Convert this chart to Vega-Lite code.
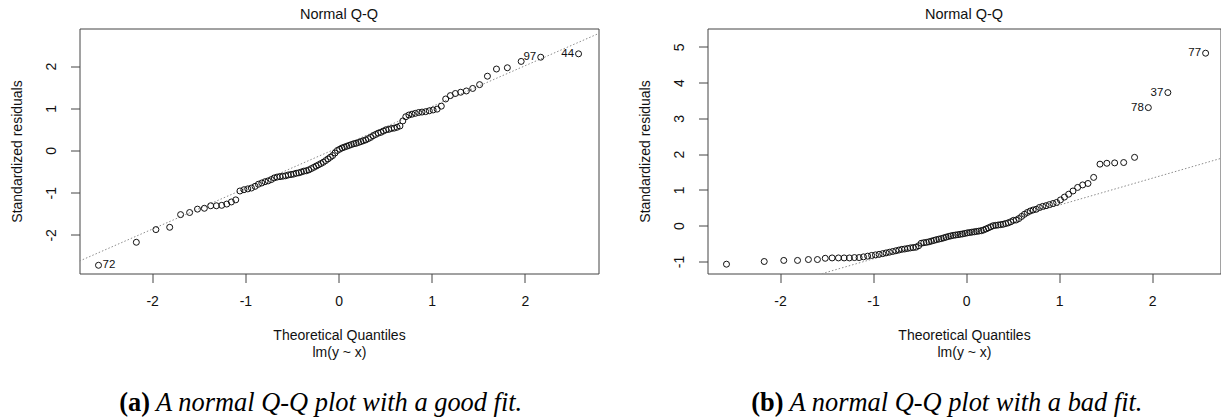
{
  "$schema": "https://vega.github.io/schema/vega-lite/v6.json",
  "padding": {"left": 9.5, "top": 6.5, "right": 0, "bottom": 0},
  "spacing": 38,
  "config": {
    "font": "Liberation Sans",
    "view": {"stroke": "#444", "strokeWidth": 1},
    "axis": {"grid": false, "domain": false, "tickColor": "#444", "tickSize": 9, "labelFontSize": 14, "labelColor": "#111", "titleFontSize": 14, "titleFontWeight": "normal", "titleColor": "#111", "labelFlush": false, "labelOverlap": false, "labelExpr": "'' + datum.value"},
    "axisX": {"labelPadding": 11.5, "titlePadding": 20, "titleLineHeight": 17},
    "axisY": {"labelAngle": -90, "labelAlign": "center", "labelBaseline": "bottom", "labelPadding": 12, "titlePadding": 20.5},
    "title": {"fontSize": 14.5, "fontWeight": "normal", "offset": 6, "color": "#111", "anchor": "middle"}
  },
  "datasets": {
    "a": [
      {"q": -2.576, "r": -2.72, "label": "72"},
      {"q": -2.170, "r": -2.175},
      {"q": -1.960, "r": -1.875},
      {"q": -1.812, "r": -1.82},
      {"q": -1.695, "r": -1.52},
      {"q": -1.598, "r": -1.47},
      {"q": -1.514, "r": -1.39},
      {"q": -1.440, "r": -1.37},
      {"q": -1.372, "r": -1.31},
      {"q": -1.311, "r": -1.31},
      {"q": -1.254, "r": -1.30},
      {"q": -1.200, "r": -1.27},
      {"q": -1.150, "r": -1.22},
      {"q": -1.103, "r": -1.17},
      {"q": -1.058, "r": -0.96},
      {"q": -1.015, "r": -0.93},
      {"q": -0.974, "r": -0.91},
      {"q": -0.935, "r": -0.89},
      {"q": -0.896, "r": -0.85},
      {"q": -0.860, "r": -0.80},
      {"q": -0.824, "r": -0.77},
      {"q": -0.789, "r": -0.74},
      {"q": -0.755, "r": -0.72},
      {"q": -0.722, "r": -0.69},
      {"q": -0.690, "r": -0.65},
      {"q": -0.659, "r": -0.63},
      {"q": -0.628, "r": -0.62},
      {"q": -0.598, "r": -0.61},
      {"q": -0.568, "r": -0.60},
      {"q": -0.539, "r": -0.58},
      {"q": -0.510, "r": -0.57},
      {"q": -0.482, "r": -0.56},
      {"q": -0.454, "r": -0.54},
      {"q": -0.426, "r": -0.53},
      {"q": -0.399, "r": -0.51},
      {"q": -0.372, "r": -0.49},
      {"q": -0.345, "r": -0.48},
      {"q": -0.319, "r": -0.46},
      {"q": -0.292, "r": -0.43},
      {"q": -0.266, "r": -0.40},
      {"q": -0.240, "r": -0.37},
      {"q": -0.215, "r": -0.34},
      {"q": -0.189, "r": -0.31},
      {"q": -0.164, "r": -0.28},
      {"q": -0.138, "r": -0.24},
      {"q": -0.113, "r": -0.20},
      {"q": -0.088, "r": -0.16},
      {"q": -0.063, "r": -0.12},
      {"q": -0.038, "r": -0.06},
      {"q": -0.0125, "r": 0.00},
      {"q": 0.0125, "r": 0.03},
      {"q": 0.038, "r": 0.06},
      {"q": 0.063, "r": 0.08},
      {"q": 0.088, "r": 0.10},
      {"q": 0.113, "r": 0.12},
      {"q": 0.138, "r": 0.14},
      {"q": 0.164, "r": 0.16},
      {"q": 0.189, "r": 0.17},
      {"q": 0.215, "r": 0.19},
      {"q": 0.240, "r": 0.21},
      {"q": 0.266, "r": 0.23},
      {"q": 0.292, "r": 0.25},
      {"q": 0.319, "r": 0.28},
      {"q": 0.345, "r": 0.31},
      {"q": 0.372, "r": 0.35},
      {"q": 0.399, "r": 0.38},
      {"q": 0.426, "r": 0.41},
      {"q": 0.454, "r": 0.43},
      {"q": 0.482, "r": 0.46},
      {"q": 0.510, "r": 0.49},
      {"q": 0.539, "r": 0.50},
      {"q": 0.568, "r": 0.52},
      {"q": 0.598, "r": 0.53},
      {"q": 0.628, "r": 0.55},
      {"q": 0.659, "r": 0.58},
      {"q": 0.690, "r": 0.70},
      {"q": 0.722, "r": 0.80},
      {"q": 0.755, "r": 0.84},
      {"q": 0.789, "r": 0.86},
      {"q": 0.824, "r": 0.88},
      {"q": 0.860, "r": 0.90},
      {"q": 0.896, "r": 0.91},
      {"q": 0.935, "r": 0.92},
      {"q": 0.974, "r": 0.94},
      {"q": 1.015, "r": 0.96},
      {"q": 1.058, "r": 0.98},
      {"q": 1.103, "r": 1.05},
      {"q": 1.150, "r": 1.22},
      {"q": 1.200, "r": 1.30},
      {"q": 1.254, "r": 1.35},
      {"q": 1.311, "r": 1.38},
      {"q": 1.372, "r": 1.41},
      {"q": 1.440, "r": 1.47},
      {"q": 1.514, "r": 1.56},
      {"q": 1.598, "r": 1.76},
      {"q": 1.695, "r": 1.93},
      {"q": 1.812, "r": 1.96},
      {"q": 1.960, "r": 2.11},
      {"q": 2.170, "r": 2.21, "label": "97"},
      {"q": 2.576, "r": 2.29, "label": "44"}
    ],
    "b": [
      {"q": -2.576, "r": -1.075},
      {"q": -2.170, "r": -1.00},
      {"q": -1.960, "r": -0.97},
      {"q": -1.812, "r": -0.97},
      {"q": -1.695, "r": -0.945},
      {"q": -1.598, "r": -0.945},
      {"q": -1.514, "r": -0.91},
      {"q": -1.440, "r": -0.90},
      {"q": -1.372, "r": -0.90},
      {"q": -1.311, "r": -0.90},
      {"q": -1.254, "r": -0.90},
      {"q": -1.200, "r": -0.89},
      {"q": -1.150, "r": -0.89},
      {"q": -1.103, "r": -0.87},
      {"q": -1.058, "r": -0.85},
      {"q": -1.015, "r": -0.83},
      {"q": -0.974, "r": -0.815},
      {"q": -0.935, "r": -0.80},
      {"q": -0.896, "r": -0.78},
      {"q": -0.860, "r": -0.76},
      {"q": -0.824, "r": -0.74},
      {"q": -0.789, "r": -0.72},
      {"q": -0.755, "r": -0.70},
      {"q": -0.722, "r": -0.68},
      {"q": -0.690, "r": -0.66},
      {"q": -0.659, "r": -0.65},
      {"q": -0.628, "r": -0.635},
      {"q": -0.598, "r": -0.62},
      {"q": -0.568, "r": -0.61},
      {"q": -0.539, "r": -0.60},
      {"q": -0.510, "r": -0.56},
      {"q": -0.482, "r": -0.49},
      {"q": -0.454, "r": -0.475},
      {"q": -0.426, "r": -0.465},
      {"q": -0.399, "r": -0.45},
      {"q": -0.372, "r": -0.43},
      {"q": -0.345, "r": -0.41},
      {"q": -0.319, "r": -0.39},
      {"q": -0.292, "r": -0.375},
      {"q": -0.266, "r": -0.36},
      {"q": -0.240, "r": -0.34},
      {"q": -0.215, "r": -0.32},
      {"q": -0.189, "r": -0.30},
      {"q": -0.164, "r": -0.285},
      {"q": -0.138, "r": -0.27},
      {"q": -0.113, "r": -0.26},
      {"q": -0.088, "r": -0.25},
      {"q": -0.063, "r": -0.24},
      {"q": -0.038, "r": -0.23},
      {"q": -0.0125, "r": -0.215},
      {"q": 0.0125, "r": -0.20},
      {"q": 0.038, "r": -0.19},
      {"q": 0.063, "r": -0.18},
      {"q": 0.088, "r": -0.17},
      {"q": 0.113, "r": -0.16},
      {"q": 0.138, "r": -0.15},
      {"q": 0.164, "r": -0.14},
      {"q": 0.189, "r": -0.12},
      {"q": 0.215, "r": -0.09},
      {"q": 0.240, "r": -0.06},
      {"q": 0.266, "r": -0.03},
      {"q": 0.292, "r": 0.00},
      {"q": 0.319, "r": 0.01},
      {"q": 0.345, "r": 0.02},
      {"q": 0.372, "r": 0.03},
      {"q": 0.399, "r": 0.04},
      {"q": 0.426, "r": 0.06},
      {"q": 0.454, "r": 0.08},
      {"q": 0.482, "r": 0.11},
      {"q": 0.510, "r": 0.15},
      {"q": 0.539, "r": 0.16},
      {"q": 0.568, "r": 0.20},
      {"q": 0.598, "r": 0.26},
      {"q": 0.628, "r": 0.32},
      {"q": 0.659, "r": 0.37},
      {"q": 0.690, "r": 0.41},
      {"q": 0.722, "r": 0.44},
      {"q": 0.755, "r": 0.46},
      {"q": 0.789, "r": 0.51},
      {"q": 0.824, "r": 0.54},
      {"q": 0.860, "r": 0.56},
      {"q": 0.896, "r": 0.59},
      {"q": 0.935, "r": 0.62},
      {"q": 0.974, "r": 0.65},
      {"q": 1.015, "r": 0.72},
      {"q": 1.058, "r": 0.80},
      {"q": 1.103, "r": 0.88},
      {"q": 1.150, "r": 0.97},
      {"q": 1.200, "r": 1.07},
      {"q": 1.254, "r": 1.14},
      {"q": 1.311, "r": 1.18},
      {"q": 1.372, "r": 1.35},
      {"q": 1.440, "r": 1.72},
      {"q": 1.514, "r": 1.745},
      {"q": 1.598, "r": 1.755},
      {"q": 1.695, "r": 1.765},
      {"q": 1.812, "r": 1.91},
      {"q": 1.960, "r": 3.30, "label": "78"},
      {"q": 2.170, "r": 3.72, "label": "37"},
      {"q": 2.576, "r": 4.82, "label": "77"}
    ],
    "lineA": [{"q": -2.78, "r": -2.62}, {"q": 2.79, "r": 2.77}],
    "lineB": [{"q": -2.78, "r": -2.263}, {"q": 2.74, "r": 1.881}],
    "capA": [{"bold": "(a)", "ital": "A normal Q-Q plot with a good fit."}],
    "capB": [{"bold": "(b)", "ital": "A normal Q-Q plot with a bad fit."}]
  },
  "hconcat": [
    {
      "width": 519,
      "height": 245,
      "title": {"text": "Normal Q-Q"},
      "layer": [
        {
          "data": {"name": "lineA"},
          "mark": {"type": "line", "strokeDash": [1.5, 2], "color": "#8c8c8c", "strokeWidth": 1, "clip": true},
          "encoding": {
            "x": {"field": "q", "type": "quantitative", "scale": {"domain": [-2.78, 2.79], "nice": false, "zero": false}, "axis": {"values": [-2, -1, 0, 1, 2], "title": ["Theoretical Quantiles", "lm(y ~ x)"]}},
            "y": {"field": "r", "type": "quantitative", "scale": {"domain": [-2.915, 2.89], "nice": false, "zero": false}, "axis": {"values": [-2, -1, 0, 1, 2], "title": "Standardized residuals"}}
          }
        },
        {
          "data": {"name": "a"},
          "mark": {"type": "point", "shape": "circle", "size": 36, "stroke": "#111", "strokeWidth": 1, "filled": false, "opacity": 1},
          "encoding": {"x": {"field": "q", "type": "quantitative"}, "y": {"field": "r", "type": "quantitative"}}
        },
        {
          "data": {"name": "a"},
          "transform": [{"filter": "datum.label && datum.q < 0"}],
          "mark": {"type": "text", "align": "left", "dx": 4, "fontSize": 11.5, "color": "#111"},
          "encoding": {"x": {"field": "q", "type": "quantitative"}, "y": {"field": "r", "type": "quantitative"}, "text": {"field": "label"}}
        },
        {
          "data": {"name": "a"},
          "transform": [{"filter": "datum.label && datum.q > 0"}],
          "mark": {"type": "text", "align": "right", "dx": -4.5, "fontSize": 11.5, "color": "#111"},
          "encoding": {"x": {"field": "q", "type": "quantitative"}, "y": {"field": "r", "type": "quantitative"}, "text": {"field": "label"}}
        },
        {
          "data": {"name": "capA"},
          "mark": {"type": "text", "font": "Liberation Serif", "fontWeight": "bold", "fontSize": 26.4, "align": "right", "dx": -3, "baseline": "alphabetic", "color": "#000"},
          "encoding": {"x": {"datum": -1.99}, "y": {"datum": -6.17}, "text": {"field": "bold"}}
        },
        {
          "data": {"name": "capA"},
          "mark": {"type": "text", "font": "Liberation Serif", "fontStyle": "italic", "fontSize": 26.4, "align": "left", "dx": 3, "baseline": "alphabetic", "color": "#000"},
          "encoding": {"x": {"datum": -1.99}, "y": {"datum": -6.17}, "text": {"field": "ital"}}
        }
      ]
    },
    {
      "width": 513,
      "height": 245,
      "title": {"text": "Normal Q-Q"},
      "layer": [
        {
          "data": {"name": "lineB"},
          "mark": {"type": "line", "strokeDash": [1.5, 2], "color": "#8c8c8c", "strokeWidth": 1, "clip": true},
          "encoding": {
            "x": {"field": "q", "type": "quantitative", "scale": {"domain": [-2.78, 2.736], "nice": false, "zero": false}, "axis": {"values": [-2, -1, 0, 1, 2], "title": ["Theoretical Quantiles", "lm(y ~ x)"]}},
            "y": {"field": "r", "type": "quantitative", "scale": {"domain": [-1.335, 5.51], "nice": false, "zero": false}, "axis": {"values": [-1, 0, 1, 2, 3, 4, 5], "title": "Standardized residuals"}}
          }
        },
        {
          "data": {"name": "b"},
          "mark": {"type": "point", "shape": "circle", "size": 36, "stroke": "#111", "strokeWidth": 1, "filled": false, "opacity": 1},
          "encoding": {"x": {"field": "q", "type": "quantitative"}, "y": {"field": "r", "type": "quantitative"}}
        },
        {
          "data": {"name": "b"},
          "transform": [{"filter": "datum.label && datum.q > 0"}],
          "mark": {"type": "text", "align": "right", "dx": -4.5, "fontSize": 11.5, "color": "#111"},
          "encoding": {"x": {"field": "q", "type": "quantitative"}, "y": {"field": "r", "type": "quantitative"}, "text": {"field": "label"}}
        },
        {
          "data": {"name": "capB"},
          "mark": {"type": "text", "font": "Liberation Serif", "fontWeight": "bold", "fontSize": 26.4, "align": "right", "dx": -3, "baseline": "alphabetic", "color": "#000"},
          "encoding": {"x": {"datum": -1.93}, "y": {"datum": -5.18}, "text": {"field": "bold"}}
        },
        {
          "data": {"name": "capB"},
          "mark": {"type": "text", "font": "Liberation Serif", "fontStyle": "italic", "fontSize": 26.4, "align": "left", "dx": 3, "baseline": "alphabetic", "color": "#000"},
          "encoding": {"x": {"datum": -1.93}, "y": {"datum": -5.18}, "text": {"field": "ital"}}
        }
      ]
    }
  ]
}
